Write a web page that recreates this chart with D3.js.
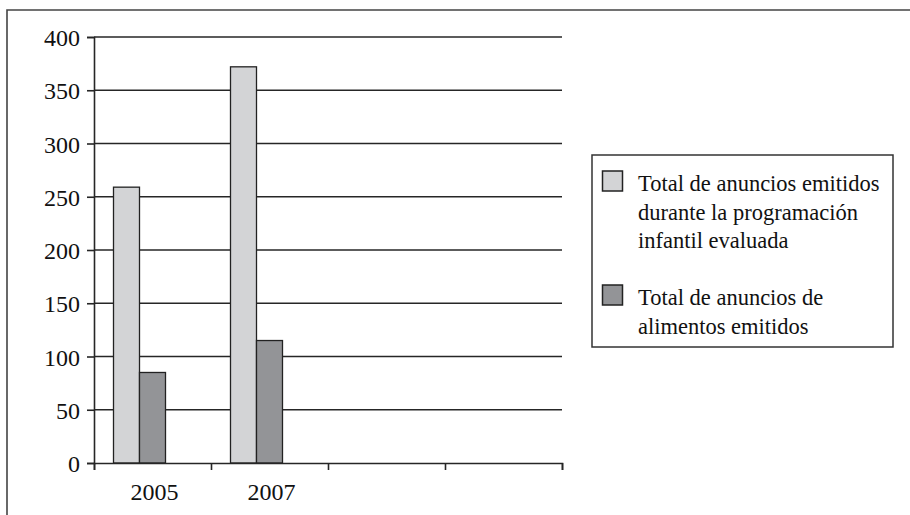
<!DOCTYPE html>
<html>
<head>
<meta charset="utf-8">
<script src="https://cdn.jsdelivr.net/npm/d3@7"></script>
<style>
  html, body { margin: 0; padding: 0; background: #fff; }
  svg { display: block; }
  text { font-family: "Liberation Serif", "DejaVu Serif", serif; fill: #111; }
</style>
</head>
<body>
<svg id="chart" width="910" height="515"></svg>
<script>
// Anuncios emitidos durante la programación infantil, 2005 y 2007
const categories = ["2005", "2007", "cat3", "cat4"];
const tickLabels = ["2005", "2007", "", ""];
const seriesNames = [
  "Total de anuncios emitidos durante la programación infantil evaluada",
  "Total de anuncios de alimentos emitidos"
];
const legendLines = [
  ["Total de anuncios emitidos", "durante la programación", "infantil evaluada"],
  ["Total de anuncios de", "alimentos emitidos"]
];
const totalAds = [259, 372, null, null];
const foodAds = [85, 115, null, null];
const yTicks = [0, 50, 100, 150, 200, 250, 300, 350, 400];
const seriesColors = ["#d3d4d6", "#939497"];

const svg = d3.select("#chart");
const plot = { left: 94, right: 562, top: 37, bottom: 463 };
const ink = "#262626";

// outer frame (top and left edges)
svg.append("path")
  .attr("d", d3.line()([[7, 515], [7, 10], [910, 10]]))
  .attr("fill", "none").attr("stroke", "#444").attr("stroke-width", 1.6);

const y = d3.scaleLinear().domain([0, 400]).range([plot.bottom, plot.top]);
const x = d3.scaleBand().domain(categories).range([plot.left, plot.right]).padding(0);
const xSub = d3.scaleBand().domain(seriesNames)
  .range([0, x.bandwidth()]).paddingInner(0).paddingOuter(1.25).align(0.3);
const xEdges = d3.scaleLinear().domain([0, categories.length]).range([plot.left, plot.right]);

// horizontal gridlines
svg.append("g").selectAll("line")
  .data(yTicks.filter(d => d > 0))
  .join("line")
  .attr("x1", plot.left).attr("x2", plot.right)
  .attr("y1", d => y(d)).attr("y2", d => y(d))
  .attr("stroke", ink).attr("stroke-width", 1.6);

// bars
const rows = categories.map((c, i) => ({ c, vals: [totalAds[i], foodAds[i]] }));
svg.append("g").selectAll("g")
  .data(rows)
  .join("g")
  .attr("transform", d => `translate(${x(d.c)},0)`)
  .selectAll("rect")
  .data(d => d.vals.map((v, j) => ({ v, j })).filter(e => e.v != null))
  .join("rect")
  .attr("x", e => xSub(seriesNames[e.j]))
  .attr("width", xSub.bandwidth())
  .attr("y", e => y(e.v))
  .attr("height", e => y(0) - y(e.v))
  .attr("fill", e => seriesColors[e.j])
  .attr("stroke", "#222").attr("stroke-width", 1.3);

// y axis
const yAxis = svg.append("g")
  .attr("transform", `translate(${plot.left},0)`)
  .call(d3.axisLeft(y).tickValues(yTicks).tickSize(7).tickPadding(7).tickFormat(d3.format("d")));
yAxis.select(".domain").attr("stroke", ink).attr("stroke-width", 1.6);
yAxis.selectAll(".tick line").attr("stroke", ink).attr("stroke-width", 1.6);
yAxis.selectAll(".tick text")
  .style("font-family", "'Liberation Serif', serif")
  .attr("font-size", 24).attr("fill", "#111").attr("dy", "0.36em");

// x axis: ticks at category boundaries
const xAxis = svg.append("g")
  .attr("transform", `translate(0,${plot.bottom})`)
  .call(d3.axisBottom(xEdges).ticks(categories.length).tickSize(7).tickFormat(""));
xAxis.select(".domain").attr("stroke", ink).attr("stroke-width", 1.6);
xAxis.selectAll(".tick line").attr("stroke", ink).attr("stroke-width", 1.6);

// category labels
const xLabels = svg.append("g")
  .attr("transform", `translate(2,${plot.bottom})`)
  .call(d3.axisBottom(x).tickSize(0).tickPadding(20).tickFormat((d, i) => tickLabels[i]));
xLabels.select(".domain").remove();
xLabels.selectAll(".tick text")
  .style("font-family", "'Liberation Serif', serif")
  .attr("font-size", 24).attr("fill", "#111");

// legend
const legend = svg.append("g");
legend.append("rect")
  .attr("x", 592).attr("y", 155).attr("width", 301).attr("height", 192)
  .attr("fill", "#fff").attr("stroke", "#333").attr("stroke-width", 1.5);
const entryTop = [171, 285];
const lineH = 28.5;
legendLines.forEach((lines, i) => {
  legend.append("rect")
    .attr("x", 602.5).attr("y", entryTop[i]).attr("width", 20).attr("height", 20)
    .attr("fill", seriesColors[i]).attr("stroke", "#222").attr("stroke-width", 1.5);
  legend.append("text")
    .attr("x", 638).attr("y", entryTop[i] + 20)
    .attr("font-size", 22.5)
    .selectAll("tspan")
    .data(lines)
    .join("tspan")
    .attr("x", 638)
    .attr("dy", (d, k) => k === 0 ? 0 : lineH)
    .text(d => d);
});
</script>
</body>
</html>
